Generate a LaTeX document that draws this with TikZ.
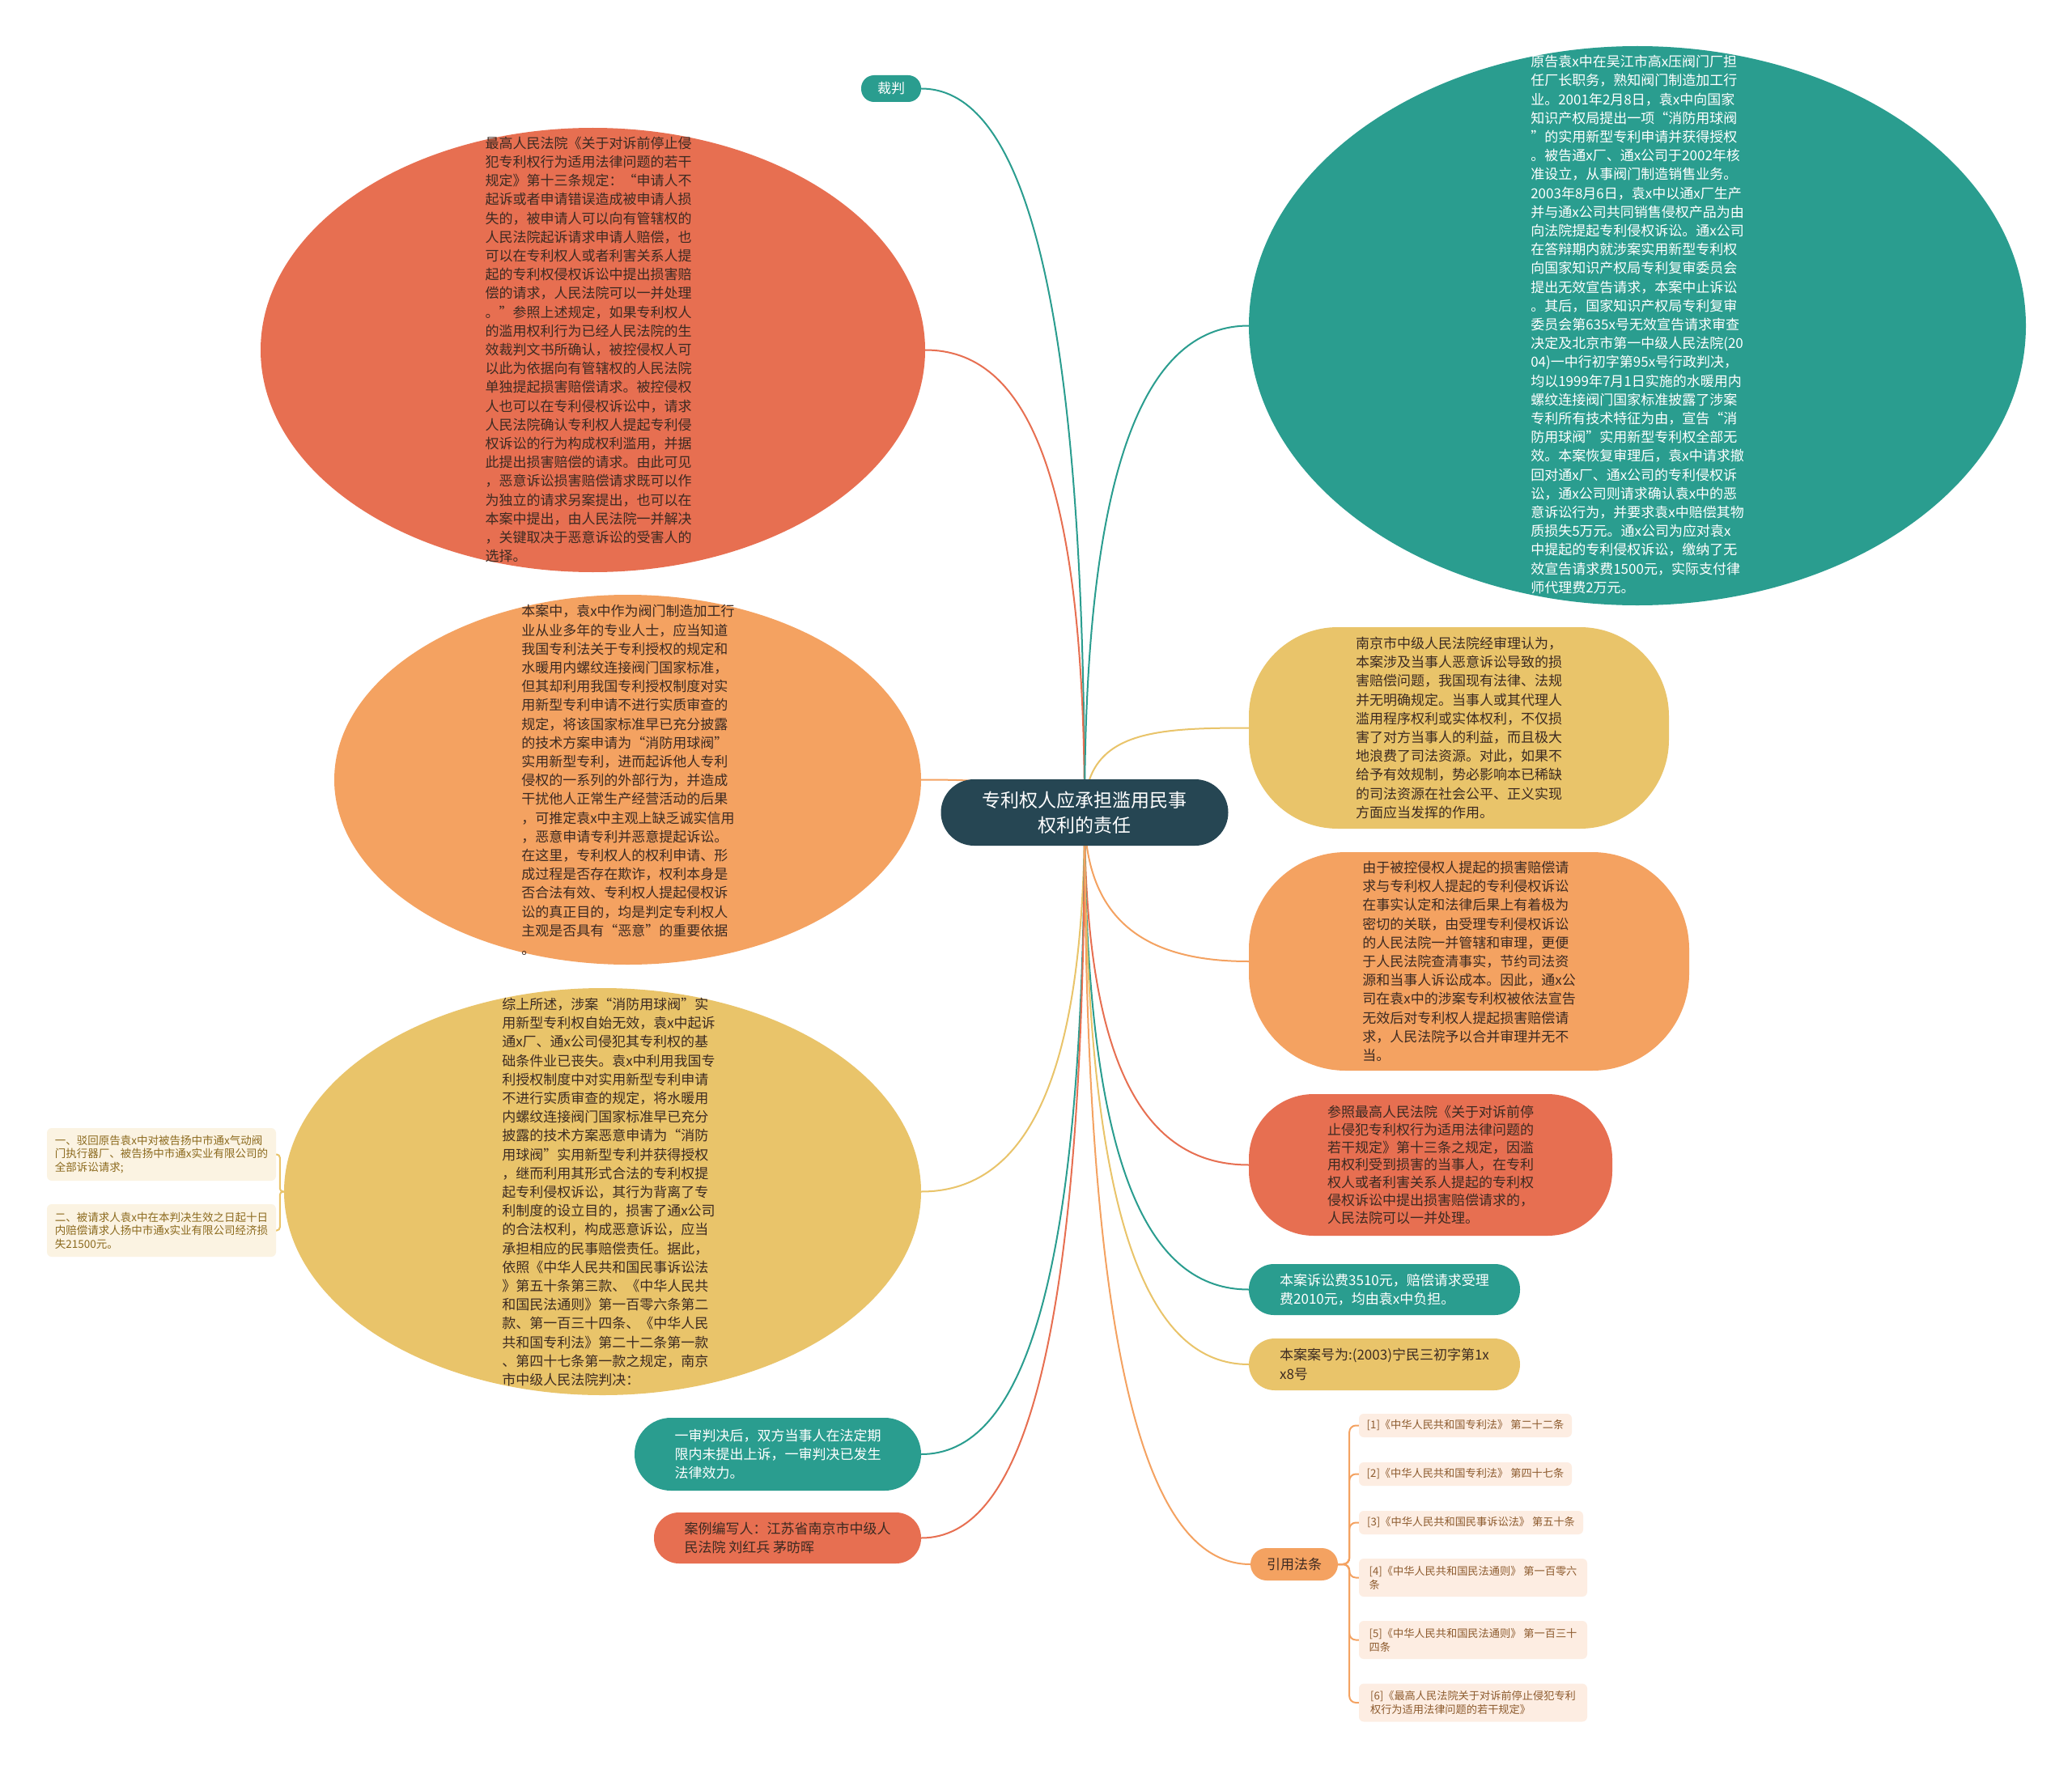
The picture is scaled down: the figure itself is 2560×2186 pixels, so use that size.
\documentclass[tikz,border=0pt]{standalone}
\usepackage{fontspec}
\setmainfont{Noto Sans CJK SC}
\usetikzlibrary{shapes.geometric}
\definecolor{cteal}{HTML}{2A9D8F}
\definecolor{cdark}{HTML}{264653}
\definecolor{cred}{HTML}{E76F51}
\definecolor{corange}{HTML}{F4A261}
\definecolor{cyellow}{HTML}{E9C46A}
\definecolor{ctxt}{HTML}{3C2A22}
\definecolor{cbox}{HTML}{FBF3E2}
\definecolor{cboxtxt}{HTML}{8C6A1E}
\definecolor{claw}{HTML}{FDEDE2}
\definecolor{clawtxt}{HTML}{8D5B2E}
\pgfdeclarelayer{bg}
\pgfdeclarelayer{lines}
\pgfsetlayers{bg,lines,main}
\begin{document}
\begin{tikzpicture}[x=1pt,y=-1pt,
  blob/.style={ellipse, draw=none, inner sep=0pt},
  pill/.style={rectangle, draw=none, inner sep=0pt},
  body/.style={align=left, inner sep=0pt, text=ctxt, font=\fontsize{17}{23.2}\selectfont},
  wbody/.style={body, text=white},
  sbox/.style={rectangle, fill=cbox, rounded corners=6pt, inner sep=0pt, align=left, text=cboxtxt, font=\fontsize{13.5}{16.5}\selectfont, minimum width=283pt, minimum height=65pt},
  law/.style={rectangle, fill=claw, rounded corners=6pt, inner sep=0pt, align=left, text=clawtxt, font=\fontsize{13.2}{17}\selectfont},
  conn/.style={line width=2pt},
  lawline/.style={line width=2pt, draw=corange, rounded corners=8pt}
]
\begin{pgfonlayer}{bg}
\fill[white] (0,0) rectangle (2560,2186);
\end{pgfonlayer}
\path[use as bounding box] (0,0) rectangle (2560,2186);

% root
\node[pill, fill=cdark, minimum width=355pt, minimum height=82pt, rounded corners=41pt, align=center, text=white, font=\fontsize{23}{31}\selectfont] (root) at (1340,1004) {专利权人应承担滥用民事\\权利的责任};

% 裁判
\node[pill, fill=cteal, minimum width=74pt, minimum height=33pt, rounded corners=16pt, text=white, font=\fontsize{17}{20}\selectfont] (caipan) at (1101,109.5) {裁判};

% top-left red ellipse
\node[blob, fill=cred, minimum width=821pt, minimum height=549pt] (tl) at (732.5,432.5) {};
\node[body] (tltxt) at (727,432) {最高人民法院《关于对诉前停止侵\\犯专利权行为适用法律问题的若干\\规定》第十三条规定：“申请人不\\起诉或者申请错误造成被申请人损\\失的，被申请人可以向有管辖权的\\人民法院起诉请求申请人赔偿，也\\可以在专利权人或者利害关系人提\\起的专利权侵权诉讼中提出损害赔\\偿的请求，人民法院可以一并处理\\。”参照上述规定，如果专利权人\\的滥用权利行为已经人民法院的生\\效裁判文书所确认，被控侵权人可\\以此为依据向有管辖权的人民法院\\单独提起损害赔偿请求。被控侵权\\人也可以在专利侵权诉讼中，请求\\人民法院确认专利权人提起专利侵\\权诉讼的行为构成权利滥用，并据\\此提出损害赔偿的请求。由此可见\\，恶意诉讼损害赔偿请求既可以作\\为独立的请求另案提出，也可以在\\本案中提出，由人民法院一并解决\\，关键取决于恶意诉讼的受害人的\\选择。};

% top-right teal ellipse
\node[blob, fill=cteal, minimum width=960pt, minimum height=691pt] (tr) at (2023,402.5) {};
\node[wbody] (trtxt) at (2023,401) {原告袁x中在吴江市高x压阀门厂担\\任厂长职务，熟知阀门制造加工行\\业。2001年2月8日，袁x中向国家\\知识产权局提出一项“消防用球阀\\”的实用新型专利申请并获得授权\\。被告通x厂、通x公司于2002年核\\准设立，从事阀门制造销售业务。\\2003年8月6日，袁x中以通x厂生产\\并与通x公司共同销售侵权产品为由\\向法院提起专利侵权诉讼。通x公司\\在答辩期内就涉案实用新型专利权\\向国家知识产权局专利复审委员会\\提出无效宣告请求，本案中止诉讼\\。其后，国家知识产权局专利复审\\委员会第635x号无效宣告请求审查\\决定及北京市第一中级人民法院(20\\04)一中行初字第95x号行政判决，\\均以1999年7月1日实施的水暖用内\\螺纹连接阀门国家标准披露了涉案\\专利所有技术特征为由，宣告“消\\防用球阀”实用新型专利权全部无\\效。本案恢复审理后，袁x中请求撤\\回对通x厂、通x公司的专利侵权诉\\讼，通x公司则请求确认袁x中的恶\\意诉讼行为，并要求袁x中赔偿其物\\质损失5万元。通x公司为应对袁x\\中提起的专利侵权诉讼，缴纳了无\\效宣告请求费1500元，实际支付律\\师代理费2万元。};

% middle-left orange ellipse
\node[blob, fill=corange, minimum width=725pt, minimum height=457pt] (ml) at (775.5,963.5) {};
\node[body] (mltxt) at (776,964) {本案中，袁x中作为阀门制造加工行\\业从业多年的专业人士，应当知道\\我国专利法关于专利授权的规定和\\水暖用内螺纹连接阀门国家标准，\\但其却利用我国专利授权制度对实\\用新型专利申请不进行实质审查的\\规定，将该国家标准早已充分披露\\的技术方案申请为“消防用球阀”\\实用新型专利，进而起诉他人专利\\侵权的一系列的外部行为，并造成\\干扰他人正常生产经营活动的后果\\，可推定袁x中主观上缺乏诚实信用\\，恶意申请专利并恶意提起诉讼。\\在这里，专利权人的权利申请、形\\成过程是否存在欺诈，权利本身是\\否合法有效、专利权人提起侵权诉\\讼的真正目的，均是判定专利权人\\主观是否具有“恶意”的重要依据\\。};

% bottom-left yellow ellipse
\node[blob, fill=cyellow, minimum width=787pt, minimum height=503pt] (bl) at (744.5,1472.5) {};
\node[body] (bltxt) at (752,1473) {综上所述，涉案“消防用球阀”实\\用新型专利权自始无效，袁x中起诉\\通x厂、通x公司侵犯其专利权的基\\础条件业已丧失。袁x中利用我国专\\利授权制度中对实用新型专利申请\\不进行实质审查的规定，将水暖用\\内螺纹连接阀门国家标准早已充分\\披露的技术方案恶意申请为“消防\\用球阀”实用新型专利并获得授权\\，继而利用其形式合法的专利权提\\起专利侵权诉讼，其行为背离了专\\利制度的设立目的，损害了通x公司\\的合法权利，构成恶意诉讼，应当\\承担相应的民事赔偿责任。据此，\\依照《中华人民共和国民事诉讼法\\》第五十条第三款、《中华人民共\\和国民法通则》第一百零六条第二\\款、第一百三十四条、《中华人民\\共和国专利法》第二十二条第一款\\、第四十七条第一款之规定，南京\\市中级人民法院判决：};

% left small boxes
\node[sbox] (b1) at (199.5,1426.5) {一、驳回原告袁x中对被告扬中市通x气动阀\\门执行器厂、被告扬中市通x实业有限公司的\\全部诉讼请求;};
\node[sbox] (b2) at (199.5,1520.5) {二、被请求人袁x中在本判决生效之日起十日\\内赔偿请求人扬中市通x实业有限公司经济损\\失21500元。};

% bottom-left pills
\node[pill, fill=cteal, minimum width=354pt, minimum height=90pt, rounded corners=45pt, wbody] (ys) at (961,1797) {一审判决后，双方当事人在法定期\\限内未提出上诉，一审判决已发生\\法律效力。};
\node[pill, fill=cred, minimum width=330pt, minimum height=63pt, rounded corners=31pt, body] (bx) at (973,1900.5) {案例编写人：江苏省南京市中级人\\民法院 刘红兵 茅昉晖};

% right side
\node[pill, fill=cyellow, minimum width=519pt, minimum height=249pt, rounded corners=110pt, body] (ry) at (1802.5,899.5) {南京市中级人民法院经审理认为，\\本案涉及当事人恶意诉讼导致的损\\害赔偿问题，我国现有法律、法规\\并无明确规定。当事人或其代理人\\滥用程序权利或实体权利，不仅损\\害了对方当事人的利益，而且极大\\地浪费了司法资源。对此，如果不\\给予有效规制，势必影响本已稀缺\\的司法资源在社会公平、正义实现\\方面应当发挥的作用。};
\node[pill, fill=corange, minimum width=544pt, minimum height=270pt, rounded corners=120pt, body] (ro) at (1815,1188) {由于被控侵权人提起的损害赔偿请\\求与专利权人提起的专利侵权诉讼\\在事实认定和法律后果上有着极为\\密切的关联，由受理专利侵权诉讼\\的人民法院一并管辖和审理，更便\\于人民法院查清事实，节约司法资\\源和当事人诉讼成本。因此，通x公\\司在袁x中的涉案专利权被依法宣告\\无效后对专利权人提起损害赔偿请\\求，人民法院予以合并审理并无不\\当。};
\node[pill, fill=cred, minimum width=449pt, minimum height=175pt, rounded corners=80pt, body, font=\fontsize{17}{21.8}\selectfont] (rr) at (1767.5,1439.5) {参照最高人民法院《关于对诉前停\\止侵犯专利权行为适用法律问题的\\若干规定》第十三条之规定，因滥\\用权利受到损害的当事人，在专利\\权人或者利害关系人提起的专利权\\侵权诉讼中提出损害赔偿请求的，\\人民法院可以一并处理。};
\node[pill, fill=cteal, minimum width=335pt, minimum height=63pt, rounded corners=31pt, wbody] (fee) at (1710.5,1593.5) {本案诉讼费3510元，赔偿请求受理\\费2010元，均由袁x中负担。};
\node[pill, fill=cyellow, minimum width=335pt, minimum height=64pt, rounded corners=32pt, body] (no) at (1710.5,1686) {本案案号为:(2003)宁民三初字第1x\\x8号};
\node[pill, fill=corange, minimum width=108pt, minimum height=40pt, rounded corners=20pt, text=ctxt, font=\fontsize{17}{20}\selectfont] (yf) at (1599,1933) {引用法条};

% law boxes
\node[law, minimum width=263pt, minimum height=29pt] (l1) at (1810.5,1761.5) {[1]《中华人民共和国专利法》 第二十二条};
\node[law, minimum width=263pt, minimum height=29pt] (l2) at (1810.5,1821.5) {[2]《中华人民共和国专利法》 第四十七条};
\node[law, minimum width=277pt, minimum height=29pt] (l3) at (1817.5,1881.5) {[3]《中华人民共和国民事诉讼法》 第五十条};
\node[law, minimum width=282pt, minimum height=47pt] (l4) at (1820,1949.5) {[4]《中华人民共和国民法通则》 第一百零六\\条};
\node[law, minimum width=282pt, minimum height=47pt] (l5) at (1820,2026.5) {[5]《中华人民共和国民法通则》 第一百三十\\四条};
\node[law, minimum width=282pt, minimum height=47pt] (l6) at (1820,2104) {[6]《最高人民法院关于对诉前停止侵犯专利\\权行为适用法律问题的若干规定》};

\begin{pgfonlayer}{lines}
\draw[conn, cteal] (root.center) .. controls +(0,-700) and +(110,0) .. (caipan.east);
\draw[conn, cred] (root.center) .. controls +(0,-430) and +(120,0) .. (tl.east);
\draw[conn, cteal] (root.center) .. controls +(0,-450) and +(-120,0) .. (tr.west);
\draw[conn, corange] (root.center) .. controls +(-60,-38) and +(80,0) .. (ml.east);
\draw[conn, cyellow] (root.center) .. controls +(0,-100) and +(-120,0) .. (ry.west);
\draw[conn, cyellow] (root.center) .. controls +(0,350) and +(120,0) .. (bl.east);
\draw[conn, cteal] (root.center) .. controls +(0,600) and +(120,0) .. (ys.east);
\draw[conn, cred] (root.center) .. controls +(0,680) and +(120,0) .. (bx.east);
\draw[conn, corange] (root.center) .. controls +(0,140) and +(-120,0) .. (ro.west);
\draw[conn, cred] (root.center) .. controls +(0,330) and +(-120,0) .. (rr.west);
\draw[conn, cteal] (root.center) .. controls +(0,450) and +(-120,0) .. (fee.west);
\draw[conn, cyellow] (root.center) .. controls +(0,520) and +(-120,0) .. (no.west);
\draw[conn, corange] (root.center) .. controls +(0,710) and +(-120,0) .. (yf.west);
\draw[conn, cyellow, rounded corners=4pt] (bl.west) -- ++(-5,0) |- (b1.east);
\draw[conn, cyellow, rounded corners=4pt] (bl.west) -- ++(-5,0) |- (b2.east);
\foreach \n in {l1,l2,l3,l4,l5,l6}{
  \draw[lawline] (yf.east) -- ++(14,0) |- (\n.west);
}
\end{pgfonlayer}
\end{tikzpicture}
\end{document}
